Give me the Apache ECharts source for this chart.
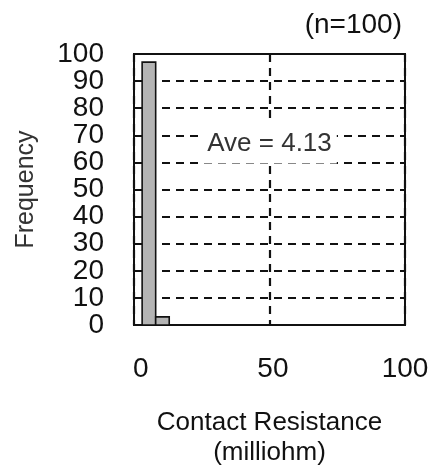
<!DOCTYPE html>
<html>
<head>
<meta charset="utf-8">
<script src="https://cdn.jsdelivr.net/npm/echarts@6/dist/echarts.min.js"></script>
<style>
html,body{margin:0;padding:0;background:#fff;}
#chart{width:435px;height:468px;}
</style>
</head>
<body>
<div id="chart"></div>
<script>
// Histogram data (Contact Resistance, milliohm)
var binStart = [3, 8];
var binEnd = [8, 13];
var counts = [97, 3];
var sampleSize = 100;
var aveValue = 4.13;
var avePosition = [50, 67];
var xTicks = [0, 50, 100];
var yTicks = [0, 10, 20, 30, 40, 50, 60, 70, 80, 90, 100];

var FONT = 'Liberation Sans';
var histData = binStart.map(function (s, i) { return [s, binEnd[i], counts[i]]; });
// labels split over two axes so the tightly packed tick labels are not auto-hidden
var yTicksEven = yTicks.filter(function (v, i) { return i % 2 === 0; });
var yTicksOdd = yTicks.filter(function (v, i) { return i % 2 === 1; });

var yLabelStyle = { fontFamily: FONT, fontSize: 28, color: '#111', margin: 30,
                    showMinLabel: true, showMaxLabel: true, hideOverlap: false };
var dashStyle = { color: '#111', width: 2.2, type: [8, 6] };

var chart = echarts.init(document.getElementById('chart'));
chart.setOption({
  animation: false,
  backgroundColor: '#fff',
  title: {
    text: '(n=' + sampleSize + ')',
    right: 28, top: 6,
    textStyle: { fontFamily: FONT, fontSize: 28, fontWeight: 'normal', color: '#111' }
  },
  grid: {
    left: 134, right: 30, top: 54, bottom: 143,
    outerBoundsMode: 'none', containLabel: false,
    show: true, borderColor: '#111', borderWidth: 2, backgroundColor: 'transparent'
  },
  xAxis: [
    {
      type: 'value', min: xTicks[0], max: xTicks[xTicks.length - 1], interval: 50,
      name: 'Contact Resistance\n(milliohm)',
      nameLocation: 'middle', nameGap: 83,
      nameTextStyle: { fontFamily: FONT, fontSize: 26, color: '#111', lineHeight: 30 },
      axisLine: { show: false },
      axisTick: { show: false },
      axisLabel: { show: false },
      splitLine: { show: true, lineStyle: dashStyle }
    },
    {
      // label-only axis (reference tick labels sit slightly right of their grid positions)
      type: 'value', min: -2.6, max: 100, position: 'bottom',
      axisLine: { show: false },
      axisTick: { show: false },
      splitLine: { show: false },
      axisLabel: { customValues: xTicks, fontFamily: FONT, fontSize: 28, color: '#111', margin: 30,
                   showMinLabel: true, showMaxLabel: true, hideOverlap: false }
    }
  ],
  yAxis: [
    {
      type: 'value', min: yTicks[0], max: yTicks[yTicks.length - 1], interval: 10,
      name: 'Frequency',
      nameLocation: 'middle', nameGap: 95, nameRotate: 90,
      nameTextStyle: { fontFamily: FONT, fontSize: 25, color: '#333' },
      axisLine: { show: false },
      axisTick: { show: true, inside: true, length: 8, lineStyle: { color: '#111', width: 2 } },
      axisLabel: Object.assign({ customValues: yTicksEven }, yLabelStyle),
      splitLine: { show: true, lineStyle: dashStyle }
    },
    {
      type: 'value', min: yTicks[0], max: yTicks[yTicks.length - 1], position: 'left', offset: 0,
      axisLine: { show: false },
      axisTick: { show: false },
      splitLine: { show: false },
      axisLabel: Object.assign({ customValues: yTicksOdd }, yLabelStyle)
    }
  ],
  series: [
    {
      type: 'custom',
      xAxisIndex: 0, yAxisIndex: 0,
      data: histData,
      encode: { x: [0, 1], y: 2 },
      renderItem: function (params, api) {
        var p1 = api.coord([api.value(0), api.value(2)]);
        var p2 = api.coord([api.value(1), 0]);
        return {
          type: 'rect',
          shape: { x: p1[0], y: p1[1], width: p2[0] - p1[0], height: p2[1] - p1[1] },
          style: { fill: '#b4b4b4', stroke: '#111', lineWidth: 1.6 }
        };
      },
      z: 3
    },
    {
      type: 'scatter',
      xAxisIndex: 0, yAxisIndex: 0,
      data: [avePosition],
      symbolSize: 0,
      silent: true,
      z: 5,
      itemStyle: { opacity: 1 },
      label: {
        show: true, position: 'inside', opacity: 1,
        formatter: function () { return 'Ave = ' + aveValue; },
        fontFamily: FONT, fontSize: 26, color: '#333',
        backgroundColor: '#ffffff', padding: [9, 5, 5, 5]
      }
    }
  ]
});
</script>
</body>
</html>
